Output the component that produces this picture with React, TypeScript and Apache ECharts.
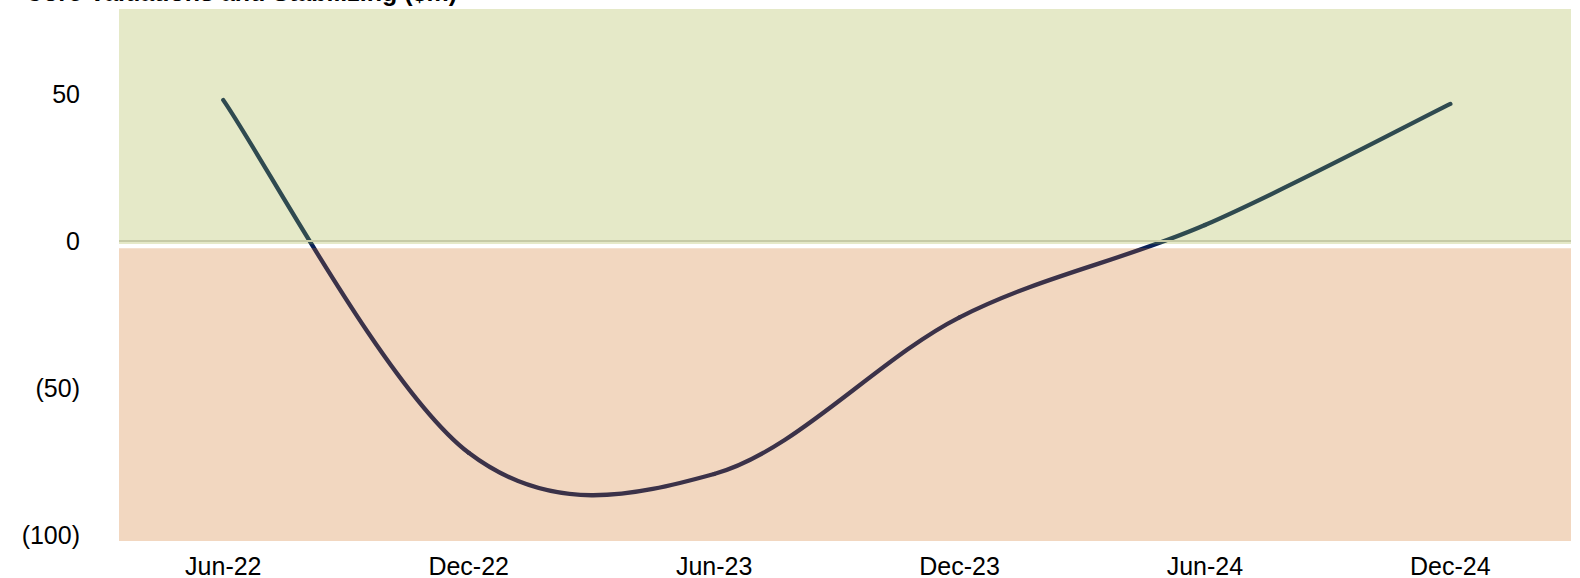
import React, { useEffect, useRef } from "react";
import * as echarts from "echarts";

const titleText = "Core Valuations and Stabilizing ($m)";
const periods = ["Jun-22", "Dec-22", "Jun-23", "Dec-23", "Jun-24", "Dec-24"];
const monthsFromStart = [0, 6, 12, 18, 24, 30];
const values = [48.0, -72.0, -79.2, -25.9, 5.5, 46.7];
const yTickValues = [-100, -50, 0, 50];

const FONT = "'Liberation Sans', Arial, sans-serif";
const GREEN_BAND = "#E5E9C8";
const ORANGE_BAND = "#F2D7C0";
const LINE_UP = "#2F4A50";
const LINE_MID = "#0A2158";
const LINE_DOWN = "#3B3249";

function renderItem(params: any, api: any) {
  const i = params.dataIndexInside;
  const n = params.dataInsideLength;
  if (i >= n - 1) return null;
  const pt = (k: number) => {
    const kk = Math.max(0, Math.min(n - 1, k));
    return api.coord([api.value(0, kk), api.value(1, kk)]);
  };
  const p0 = pt(i - 1);
  const p1 = pt(i);
  const p2 = pt(i + 1);
  const p3 = pt(i + 2);
  const c1 = [p1[0] + (p2[0] - p0[0]) / 6, p1[1] + (p2[1] - p0[1]) / 6];
  const c2 = [p2[0] - (p3[0] - p1[0]) / 6, p2[1] - (p3[1] - p1[1]) / 6];
  const yA = api.coord([0, -0.95])[1];
  const yB = api.coord([0, -2.4])[1];
  const grad = new echarts.graphic.LinearGradient(
    0,
    yA,
    0,
    yB,
    [
      { offset: 0, color: LINE_UP },
      { offset: 0.15, color: LINE_MID },
      { offset: 0.85, color: LINE_MID },
      { offset: 1, color: LINE_DOWN },
    ],
    true
  );
  return {
    type: "bezierCurve",
    shape: {
      x1: p1[0],
      y1: p1[1],
      x2: p2[0],
      y2: p2[1],
      cpx1: c1[0],
      cpy1: c1[1],
      cpx2: c2[0],
      cpy2: c2[1],
    },
    style: { stroke: grad, lineWidth: 4.3, fill: "none", lineCap: "round" },
  };
}

export default function App() {
  const ref = useRef<HTMLDivElement>(null);
  useEffect(() => {
    if (!ref.current) return;
    const chart = echarts.init(ref.current, null, { renderer: "svg" });
    chart.setOption({
      animation: false,
      backgroundColor: "#ffffff",
      title: {
        text: titleText,
        left: 20,
        top: -26,
        textStyle: { fontFamily: FONT, fontSize: 25, fontWeight: "bold", color: "#000" },
      },
      grid: { left: 119, right: 9, top: 9, bottom: 34 },
      xAxis: {
        type: "value",
        min: -2.55,
        max: 32.95,
        axisLine: { show: false },
        axisTick: { show: false },
        splitLine: { show: false },
        axisLabel: {
          customValues: monthsFromStart,
          formatter: (v: number) => {
            const idx = monthsFromStart.indexOf(Math.round(v));
            return idx >= 0 ? periods[idx] : "";
          },
          fontFamily: FONT,
          fontSize: 25,
          color: "#000",
          margin: 12,
        },
      },
      yAxis: {
        type: "value",
        min: -102,
        max: 79,
        axisLine: { show: false },
        splitLine: { show: false },
        axisTick: {
          show: true,
          customValues: [0],
          length: 17,
          lineStyle: { color: "#D9D9D9", width: 2 },
        },
        axisLabel: {
          customValues: yTickValues,
          formatter: (v: number) => (v < 0 ? `(${-v})` : `${v}`),
          fontFamily: FONT,
          fontSize: 25,
          color: "#000",
          margin: 39,
        },
      },
      series: [
        {
          type: "line",
          data: [],
          silent: true,
          z: 1,
          markArea: {
            silent: true,
            data: [
              [{ yAxis: 79, itemStyle: { color: GREEN_BAND } }, { yAxis: -0.95 }],
              [{ yAxis: -2.4, itemStyle: { color: ORANGE_BAND } }, { yAxis: -102 }],
            ],
          },
          markLine: {
            silent: true,
            symbol: "none",
            label: { show: false },
            lineStyle: { color: "#C6CAA6", width: 2, type: "solid" },
            data: [{ yAxis: 0 }],
          },
        },
        {
          type: "custom",
          z: 3,
          silent: true,
          clip: false,
          data: values.map((v, i) => [monthsFromStart[i], v]),
          renderItem,
        },
      ],
    });
    return () => chart.dispose();
  }, []);
  return (
    <div
      ref={ref}
      style={{ position: "absolute", left: 0, top: 0, width: 1580, height: 578 }}
    />
  );
}
